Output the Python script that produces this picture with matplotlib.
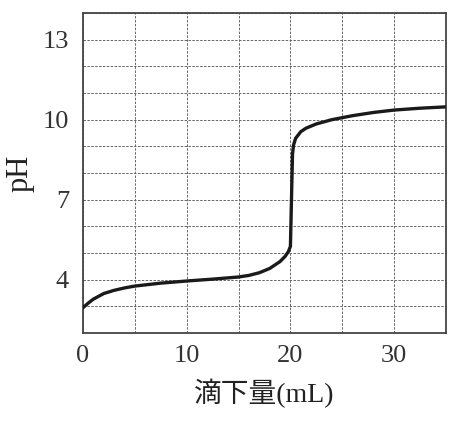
import matplotlib.pyplot as plt
import numpy as np
from matplotlib.ticker import MultipleLocator

# titration curve
vol = [0, 0.5, 1, 2, 3, 4, 5, 7.5, 10, 12.5, 15, 16, 17, 18, 19, 19.5, 19.8, 20.0,
       20.1, 20.2, 20.3, 20.5, 21, 21.5, 22.5, 24, 26, 28, 30, 32.5, 35]
ph = [2.95, 3.12, 3.27, 3.48, 3.6, 3.69, 3.76, 3.87, 3.95, 4.02, 4.1, 4.16, 4.26, 4.42, 4.68,
      4.88, 5.05, 5.25, 7.0, 8.7, 9.05, 9.3, 9.55, 9.68, 9.84, 10.0, 10.15, 10.27, 10.36, 10.43, 10.48]

xticks = [0, 10, 20, 30]
yticks = [4, 7, 10, 13]

serif = ['Liberation Serif', 'Noto Sans CJK JP']

fig = plt.figure(figsize=(4.74, 4.22), dpi=100)
ax = fig.add_axes([83/474, 1 - 333/422, (446-83)/474, (333-13)/422])

ax.plot(vol, ph, color='#1a1a1a', lw=2.4, solid_capstyle='round', zorder=3)

ax.set_xlim(0, 35)
ax.set_ylim(2, 14)
ax.set_xticks(xticks)
ax.set_yticks(yticks)
ax.xaxis.set_minor_locator(MultipleLocator(5))
ax.yaxis.set_minor_locator(MultipleLocator(1))
ax.grid(which='both', color='#666666', ls=(0, (2.5, 1.5)), lw=0.7)
ax.tick_params(which='both', length=0, labelsize=19, colors='#333333')
ax.tick_params(axis='y', pad=10)
ax.tick_params(axis='x', pad=9)
for lab in ax.get_xticklabels() + ax.get_yticklabels():
    lab.set_family(serif)

for s in ax.spines.values():
    s.set_color('#444444')
    s.set_linewidth(1.3)

ax.set_xlabel('滴下量(mL)', family=serif, fontsize=20, color='#222222', labelpad=8)
ax.set_ylabel('pH', family=serif, fontsize=22, color='#222222', labelpad=6)

fig.savefig('out.png', dpi=100)
